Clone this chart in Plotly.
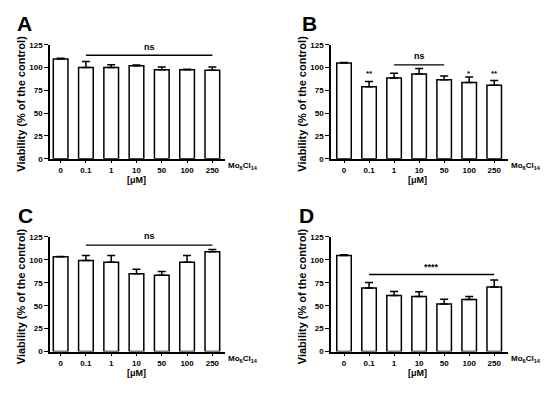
import plotly.graph_objects as go

categories = ["0", "0.1", "1", "10", "50", "100", "250"]

a_values = [109.5, 100, 100, 102, 97.5, 97.7, 97]
a_errors = [0.7, 6.5, 3, 0.7, 3, 0.5, 3.5]

b_values = [105, 78.8, 88.5, 93, 86.5, 83.7, 80.5]
b_errors = [0.6, 6, 5.2, 6, 4.3, 5.8, 5.3]

c_values = [103.3, 99.3, 97.3, 84.7, 83.3, 97.3, 108.8]
c_errors = [0.3, 5.5, 7.5, 5, 4, 7.5, 2.5]

d_values = [104.8, 69.3, 61.2, 60, 51.8, 56.8, 70.5]
d_errors = [0.6, 6, 4.2, 5.2, 5.3, 3.2, 7.5]

y_ticks = [0, 25, 50, 75, 100, 125]
panel_letters = ["A", "B", "C", "D"]
y_title = "Viability (% of the control)"
x_unit = "[\u03bcM]"
compound = "Mo<sub>6</sub>Cl<sub>14</sub>"

# significance annotations: (start category, end category, line y, label, label y)
a_sig = ("0.1", "250", 113.5, "ns", 122)
b_sig = ("1", "50", 103, "ns", 112.5)
b_stars = [("0.1", "**"), ("100", "*"), ("250", "**")]
b_star_y = 93
c_sig = ("0.1", "250", 116, "ns", 125.5)
d_sig = ("0.1", "250", 84, "****", 92.5)

W, H = 550, 395
FONT = "Liberation Sans, Arial, sans-serif"
YMAX = 125

# panel geometry in pixels: (y-axis x, axis end x, top y (125), bottom y (0), x range)
panels = [
    (50, 225, 41.7, 158.3, [-0.42, 6.5]),
    (331, 508, 41.7, 158.3, [-0.52, 6.55]),
    (50, 225, 238.3, 355.7, [-0.42, 6.5]),
    (331, 508, 238.3, 355.7, [-0.52, 6.55]),
]
letter_x = [24, 309, 25, 306]
datasets = [(a_values, a_errors), (b_values, b_errors), (c_values, c_errors), (d_values, d_errors)]

fig = go.Figure()
annotations = []
shapes = []

for i, ((x0, x1, ytop, ybot, xr), (vals, errs)) in enumerate(zip(panels, datasets)):
    n = i + 1
    xa = "x" if n == 1 else f"x{n}"
    ya = "y" if n == 1 else f"y{n}"
    fig.add_trace(go.Bar(
        x=list(range(len(categories))), y=vals, xaxis=xa, yaxis=ya,
        marker=dict(color="white", line=dict(color="black", width=1.5)),
        width=0.58,
        error_y=dict(type="data", array=errs, arrayminus=[0] * len(errs), symmetric=False,
                     color="black", thickness=1.5, width=4),
        showlegend=False, hoverinfo="skip",
    ))
    xkey = "xaxis" if n == 1 else f"xaxis{n}"
    ykey = "yaxis" if n == 1 else f"yaxis{n}"
    fig.layout[xkey] = dict(
        domain=[x0 / W, x1 / W], anchor=ya, range=xr,
        tickvals=list(range(len(categories))),
        ticktext=[f"<b>{c}</b>" for c in categories],
        showline=True, linecolor="black", linewidth=1.5, ticks="outside",
        ticklen=3, tickwidth=1.2, tickcolor="black", showgrid=False, zeroline=False,
        tickfont=dict(family=FONT, size=8, color="black"), fixedrange=True,
    )
    fig.layout[ykey] = dict(
        domain=[1 - ybot / H, 1 - ytop / H], anchor=xa, range=[0, YMAX],
        tickvals=y_ticks, ticktext=[f"<b>{t}</b>" for t in y_ticks],
        showline=True, linecolor="black", linewidth=1.5,
        ticks="outside", ticklen=4, tickwidth=1.2, tickcolor="black",
        showgrid=False, zeroline=False,
        tickfont=dict(family=FONT, size=8, color="black"), fixedrange=True,
    )
    # y title
    annotations.append(dict(
        text=f"<b>{y_title}</b>", xref="paper", yref="paper",
        x=(x0 - 29) / W, y=1 - ((ytop + ybot) / 2 + 2) / H, textangle=-90,
        showarrow=False, font=dict(family=FONT, size=11, color="black"),
        xanchor="center", yanchor="middle",
    ))
    # compound label
    annotations.append(dict(
        text=f"<b>{compound}</b>", xref="paper", yref="paper",
        x=(x1 + 1) / W, y=1 - (ybot + 7.5) / H, showarrow=False,
        font=dict(family=FONT, size=8, color="black"), xanchor="left", yanchor="middle",
    ))
    # unit label
    annotations.append(dict(
        text=f"<b>{x_unit}</b>", xref="paper", yref="paper",
        x=(x0 + 86) / W, y=1 - (ybot + 22) / H, showarrow=False,
        font=dict(family=FONT, size=9, color="black"), xanchor="center", yanchor="middle",
    ))
    # panel letter
    annotations.append(dict(
        text=f"<b>{panel_letters[i]}</b>", xref="paper", yref="paper",
        x=letter_x[i] / W, y=1 - (ytop - 22) / H, showarrow=False,
        font=dict(family=FONT, size=21, color="black"), xanchor="center", yanchor="middle",
    ))

sigs = [(1, a_sig), (2, b_sig), (3, c_sig), (4, d_sig)]
for n, (s, e, ly, lab, ty) in sigs:
    xa = "x" if n == 1 else f"x{n}"
    ya = "y" if n == 1 else f"y{n}"
    si, ei = categories.index(s), categories.index(e)
    shapes.append(dict(type="line", xref=xa, yref=f"{ya} domain", x0=si, x1=ei,
                       y0=ly / YMAX, y1=ly / YMAX, line=dict(color="black", width=1.3)))
    annotations.append(dict(text=f"<b>{lab}</b>", xref=xa, yref=f"{ya} domain",
                            x=(si + ei) / 2, y=ty / YMAX,
                            showarrow=False, font=dict(family=FONT, size=9, color="black"),
                            xanchor="center", yanchor="middle"))

for cat, st in b_stars:
    annotations.append(dict(text=f"<b>{st}</b>", xref="x2", yref="y2 domain",
                            x=categories.index(cat), y=b_star_y / YMAX,
                            showarrow=False, font=dict(family=FONT, size=8, color="black"),
                            xanchor="center", yanchor="middle"))

fig.update_layout(
    width=W, height=H, margin=dict(l=0, r=0, t=0, b=0),
    paper_bgcolor="white", plot_bgcolor="white",
    annotations=annotations, shapes=shapes,
)

fig.write_html("out.html", include_plotlyjs=True, config={"displayModeBar": False},
               post_script="document.body.style.margin='0px';")
